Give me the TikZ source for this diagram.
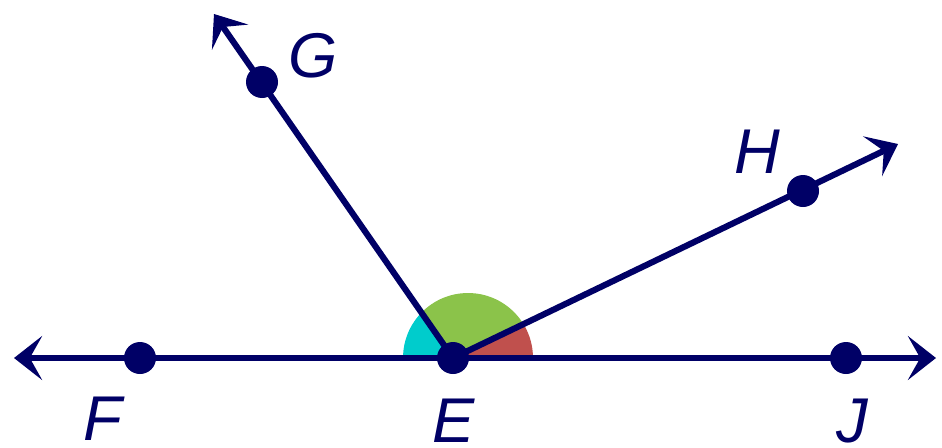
\documentclass[tikz,border=0pt]{standalone}
\usepackage{fontspec}
\setmainfont{Liberation Sans}
\usepackage{tikz}
\usetikzlibrary{arrows.meta,backgrounds}
\definecolor{navy}{RGB}{0,0,102}
\definecolor{wcyan}{RGB}{0,204,204}
\definecolor{wgreen}{RGB}{139,195,74}
\definecolor{wred}{RGB}{192,80,77}

\begin{document}
\begin{tikzpicture}[
    x=0.02cm, y=-0.02cm,
    >={Stealth[length=16pt, width=25pt, inset=7pt]},
    ray/.style={line width=3.5pt, draw=navy},
    Pdot/.style={circle, fill=navy, inner sep=0pt, minimum size=0.64cm},
    Plbl/.style={font=\fontsize{36}{40}\selectfont\itshape, text=navy, anchor=base, inner sep=0pt},
]
\useasboundingbox (0,0) rectangle (942,447);
\node[Pdot] (E) at (453,358) {};
\node[Pdot] (F) at (140,358) {};
\node[Pdot] (J) at (846,358) {};
\node[Pdot] (G) at (262,82) {};
\node[Pdot] (H) at (803,191) {};
\coordinate (Ftip) at (14,358);
\coordinate (Jtip) at (936,358);
\coordinate (Gtip) at (214,14);
\coordinate (Htip) at (898,144);
\coordinate (W) at (468,358);
\begin{scope}[on background layer]
\clip (W) circle[radius=1.3cm];
\fill[wred] (E.center) -- (Htip) -- (942,358) -- cycle;
\fill[wgreen] (E.center) -- (Gtip) -- (900,12) -- (Htip) -- cycle;
\fill[wcyan] (E.center) -- (Gtip) -- (0,12) -- (0,358) -- cycle;
\end{scope}
\draw[ray, <->] (Ftip) -- (Jtip);
\draw[ray, ->] (E.center) -- (Gtip);
\draw[ray, ->] (E.center) -- (Htip);
\node[Plbl] at (103,440) {F};
\node[Plbl] at (454,442) {E};
\node[Plbl] at (852,442) {J};
\node[Plbl] at (313,77) {G};
\node[Plbl] at (757,173) {H};
\end{tikzpicture}
\end{document}
